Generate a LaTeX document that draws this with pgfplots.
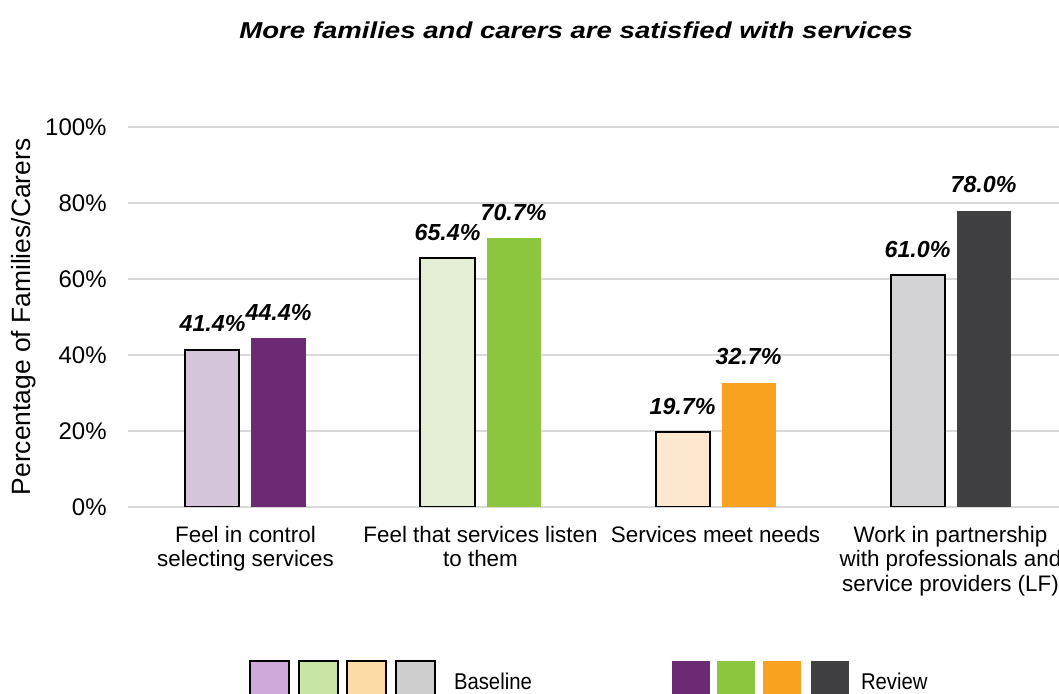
\documentclass[border=0pt]{standalone}
\usepackage{pgfplots}
\pgfplotsset{compat=1.18}
\usepackage{fontspec}
\setmainfont{Liberation Sans}
\definecolor{bpur}{HTML}{D4C5DA}
\definecolor{bgrn}{HTML}{E3EED5}
\definecolor{bora}{HTML}{FDE8CF}
\definecolor{bgry}{HTML}{D3D3D5}
\definecolor{rpur}{HTML}{6B2A73}
\definecolor{rgrn}{HTML}{8CC63F}
\definecolor{rora}{HTML}{F8A21F}
\definecolor{rgry}{HTML}{404042}
\definecolor{lpur}{HTML}{D0A9DB}
\definecolor{lgrn}{HTML}{C9E5A5}
\definecolor{lora}{HTML}{FCDBA9}
\definecolor{lgry}{HTML}{D0CFD0}
\definecolor{gridc}{HTML}{D9D9D9}
\begin{document}
\begin{tikzpicture}
\useasboundingbox (-64pt,-93.5pt) rectangle (465.5pt,253.5pt);
\begin{axis}[
  at={(0pt,0pt)}, anchor=south west,
  scale only axis, width=470pt, height=190pt,
  xmin=-0.5, xmax=3.5, ymin=0, ymax=100,
  ybar, bar width=27pt,
  /pgf/number format/assume math mode=true,
  axis x line*=bottom, axis y line*=left,
  x axis line style={draw=gridc, line width=1pt},
  y axis line style={draw=none},
  ymajorgrids, grid style={draw=gridc, line width=1pt},
  ytick={0,20,40,60,80,100},
  yticklabel={\pgfmathprintnumber{\tick}\%},
  yticklabel style={inner sep=0pt, xshift=-10.5pt, font=\fontsize{12}{13}\selectfont},
  ytick style={draw=none}, xtick style={draw=none},
  xtick={0,1,2,3},
  xticklabels={{Feel in control\\selecting services},{Feel that services listen\\to them},{Services meet needs},{Work in partnership\\with professionals and\\service providers (LF)}},
  xticklabel style={align=center, anchor=north, inner sep=0pt, yshift=-5pt, font=\fontsize{11.2}{12.4}\selectfont},
  ylabel={Percentage of Families/Carers},
  ylabel style={at={(axis description cs:-0.111,0.5)}, anchor=center, inner sep=0pt, font=\fontsize{13.2}{14}\selectfont},
  title={\scalebox{1.2}[1]{\bfseries\itshape More families and carers are satisfied with services}},
  title style={at={(axis description cs:0.4766,1.2024)}, anchor=base, inner sep=0pt, font=\fontsize{11.5}{13}\selectfont},
  nodes near coords={\pgfmathprintnumber[fixed,fixed zerofill,precision=1]{\pgfplotspointmeta}\%},
  every node near coord/.append style={text=black, anchor=base, inner sep=0pt, yshift=9pt, font=\bfseries\itshape\fontsize{11.6}{13}\selectfont},
]
\addplot[fill=bpur, draw=black, line width=1pt, bar shift=-16.5pt] coordinates {(0,41.4)};
\addplot[fill=rpur, draw=none, bar shift=16.5pt] coordinates {(0,44.4)};
\addplot[fill=bgrn, draw=black, line width=1pt, bar shift=-16.5pt] coordinates {(1,65.4)};
\addplot[fill=rgrn, draw=none, bar shift=16.5pt] coordinates {(1,70.7)};
\addplot[fill=bora, draw=black, line width=1pt, bar shift=-16.5pt] coordinates {(2,19.7)};
\addplot[fill=rora, draw=none, bar shift=16.5pt] coordinates {(2,32.7)};
\addplot[fill=bgry, draw=black, line width=1pt, bar shift=-16.5pt] coordinates {(3,61.0)};
\addplot[fill=rgry, draw=none, bar shift=16.5pt] coordinates {(3,78.0)};
\end{axis}
% legend
\begin{scope}[line width=1pt]
\draw[fill=lpur] (61pt,-77pt) rectangle ++(19.5pt,-19pt);
\draw[fill=lgrn] (85.25pt,-77pt) rectangle ++(19.5pt,-19pt);
\draw[fill=lora] (109.5pt,-77pt) rectangle ++(19.5pt,-19pt);
\draw[fill=lgry] (133.75pt,-77pt) rectangle ++(19.5pt,-19pt);
\node[anchor=base west, inner sep=0pt, font=\fontsize{11.4}{13}\selectfont] at (162.5pt,-91.5pt) {\scalebox{0.89}[1]{Baseline}};
\fill[rpur] (272pt,-77pt) rectangle ++(19pt,-19pt);
\fill[rgrn] (294.5pt,-77pt) rectangle ++(19pt,-19pt);
\fill[rora] (317.5pt,-77pt) rectangle ++(19pt,-19pt);
\fill[rgry] (341.5pt,-77pt) rectangle ++(19pt,-19pt);
\node[anchor=base west, inner sep=0pt, font=\fontsize{11.4}{13}\selectfont] at (366pt,-91.5pt) {\scalebox{0.89}[1]{Review}};
\end{scope}
\end{tikzpicture}
\end{document}
